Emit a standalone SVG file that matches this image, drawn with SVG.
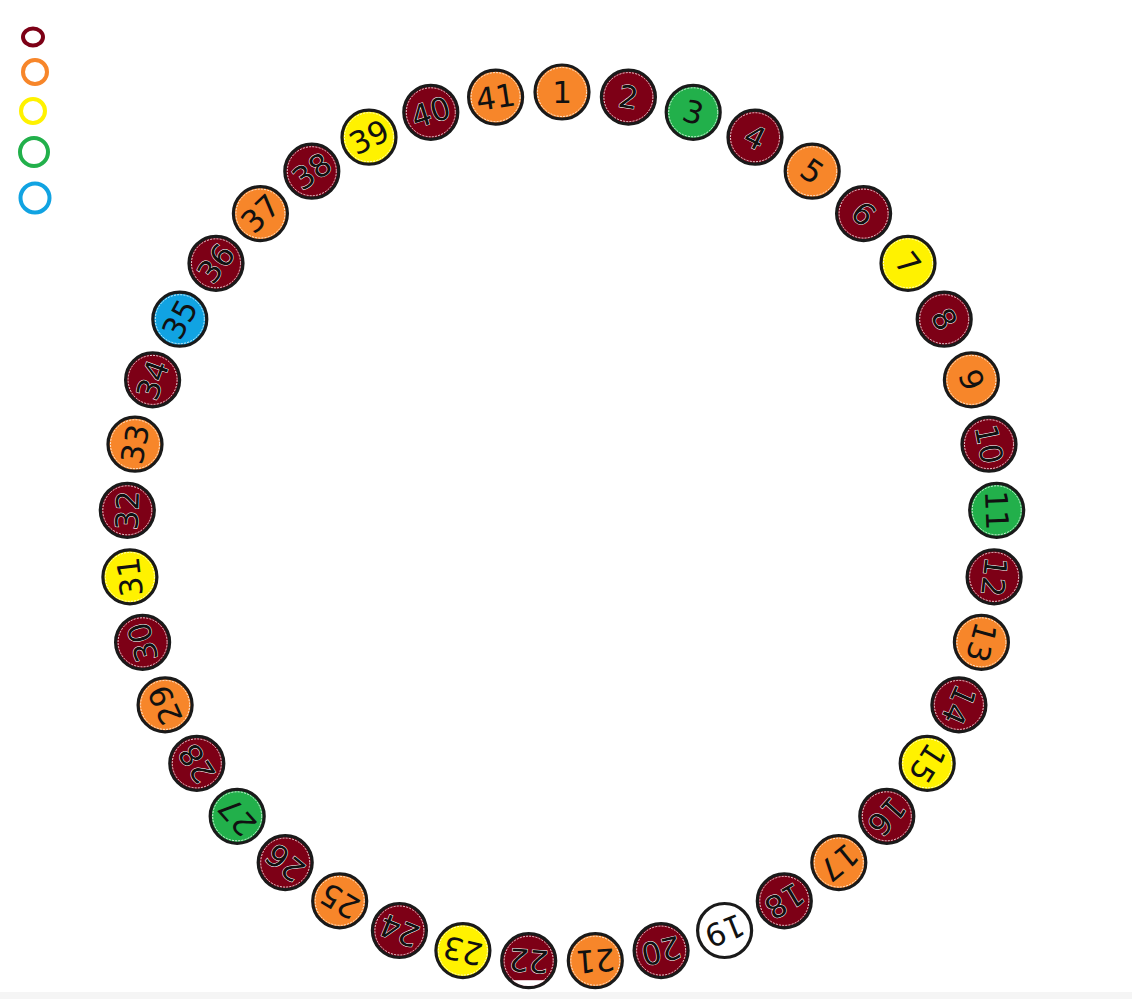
<svg xmlns="http://www.w3.org/2000/svg" width="1132" height="999" viewBox="0 0 1132 999">
<style>
.c{stroke:#1a1a1a;stroke-width:3.2}
.red{fill:#7d0016}.org{fill:#f7862a}.yel{fill:#fff200}.grn{fill:#22b04b}.blu{fill:#11a3e2}.wht{fill:#ffffff}
.d{fill:none;stroke:#ffffff;stroke-width:0.8;stroke-dasharray:2 1.2}
.t{font-family:"DejaVu Sans","Liberation Sans",sans-serif;font-size:31px;fill:#111;text-anchor:middle}
.tw{stroke:#ffffff;stroke-width:1;paint-order:stroke}
.lg{fill:none;stroke-width:4}
</style>
<defs>
<clipPath id="clip22"><circle cx="0" cy="0" r="25.4"/></clipPath>
</defs>
<rect x="0" y="0" width="1132" height="999" fill="#ffffff"/>
<rect x="0" y="992" width="1132" height="7" fill="#f5f5f5"/>
<g id="legend">
<ellipse cx="33" cy="37" rx="10" ry="8.5" class="lg" stroke="#7d0016"/>
<circle cx="35" cy="72" r="12" class="lg" stroke="#f7862a"/>
<circle cx="33" cy="111" r="12" class="lg" stroke="#fff200"/>
<circle cx="34" cy="152" r="14" class="lg" stroke="#22b04b"/>
<circle cx="35" cy="198" r="14.5" class="lg" stroke="#11a3e2"/>
</g>
<g id="connectors"></g>
<g id="n1" transform="translate(562,92)"><circle r="27" class="c org"/><circle r="24.5" class="d"/><text class="t" y="11" transform="rotate(0)">1</text></g>
<g id="n2" transform="translate(628.4,97.1)"><circle r="27" class="c red"/><circle r="24.5" class="d"/><text class="t tw" y="11" transform="rotate(8.78)">2</text></g>
<g id="n3" transform="translate(693.2,112.3)"><circle r="27" class="c grn"/><circle r="24.5" class="d"/><text class="t" y="11" transform="rotate(17.56)">3</text></g>
<g id="n4" transform="translate(755,137.2)"><circle r="27" class="c red"/><circle r="24.5" class="d"/><text class="t tw" y="11" transform="rotate(26.34)">4</text></g>
<g id="n5" transform="translate(812.2,171.2)"><circle r="27" class="c org"/><circle r="24.5" class="d"/><text class="t" y="11" transform="rotate(35.12)">5</text></g>
<g id="n6" transform="translate(863.6,213.6)"><circle r="27" class="c red"/><circle r="24.5" class="d"/><text class="t tw" y="11" transform="rotate(43.9)">6</text></g>
<g id="n7" transform="translate(908,263.3)"><circle r="27" class="c yel"/><circle r="24.5" class="d"/><text class="t" y="11" transform="rotate(52.68)">7</text></g>
<g id="n8" transform="translate(944.2,319.2)"><circle r="27" class="c red"/><circle r="24.5" class="d"/><text class="t tw" y="11" transform="rotate(61.46)">8</text></g>
<g id="n9" transform="translate(971.4,379.9)"><circle r="27" class="c org"/><circle r="24.5" class="d"/><text class="t" y="11" transform="rotate(70.24)">9</text></g>
<g id="n10" transform="translate(989,444.2)"><circle r="27" class="c red"/><circle r="24.5" class="d"/><text class="t tw" y="11" transform="rotate(79.02)">10</text></g>
<g id="n11" transform="translate(996.7,510.3)"><circle r="27" class="c grn"/><circle r="24.5" class="d"/><text class="t" y="11" transform="rotate(87.8)">11</text></g>
<g id="n12" transform="translate(994.1,576.9)"><circle r="27" class="c red"/><circle r="24.5" class="d"/><text class="t tw" y="11" transform="rotate(96.59)">12</text></g>
<g id="n13" transform="translate(981.4,642.3)"><circle r="27" class="c org"/><circle r="24.5" class="d"/><text class="t" y="11" transform="rotate(105.37)">13</text></g>
<g id="n14" transform="translate(958.9,704.9)"><circle r="27" class="c red"/><circle r="24.5" class="d"/><text class="t tw" y="11" transform="rotate(114.15)">14</text></g>
<g id="n15" transform="translate(927.2,763.4)"><circle r="27" class="c yel"/><circle r="24.5" class="d"/><text class="t" y="11" transform="rotate(122.93)">15</text></g>
<g id="n16" transform="translate(886.8,816.3)"><circle r="27" class="c red"/><circle r="24.5" class="d"/><text class="t tw" y="11" transform="rotate(131.71)">16</text></g>
<g id="n17" transform="translate(838.8,862.6)"><circle r="27" class="c org"/><circle r="24.5" class="d"/><text class="t" y="11" transform="rotate(140.49)">17</text></g>
<g id="n18" transform="translate(784.3,900.9)"><circle r="27" class="c red"/><circle r="24.5" class="d"/><text class="t tw" y="11" transform="rotate(149.27)">18</text></g>
<g id="n19" transform="translate(724.6,930.5)"><circle r="27" class="c wht"/><text class="t" y="11" transform="rotate(158.05)">19</text></g>
<g id="n20" transform="translate(661.1,950.6)"><circle r="27" class="c red"/><circle r="24.5" class="d"/><text class="t tw" y="11" transform="rotate(166.83)">20</text></g>
<g id="n21" transform="translate(595.3,960.7)"><circle r="27" class="c org"/><circle r="24.5" class="d"/><text class="t" y="11" transform="rotate(175.61)">21</text></g>
<g id="n22" transform="translate(528.7,960.7)"><circle r="27" class="c red"/><circle r="24.5" class="d"/><rect x="-30" y="19.5" width="60" height="10" fill="#ffffff" clip-path="url(#clip22)"/><text class="t tw" y="11" transform="rotate(184.39)">22</text></g>
<g id="n23" transform="translate(462.9,950.6)"><circle r="27" class="c yel"/><circle r="24.5" class="d"/><text class="t" y="11" transform="rotate(193.17)">23</text></g>
<g id="n24" transform="translate(399.4,930.5)"><circle r="27" class="c red"/><circle r="24.5" class="d"/><text class="t tw" y="11" transform="rotate(201.95)">24</text></g>
<g id="n25" transform="translate(339.7,900.9)"><circle r="27" class="c org"/><circle r="24.5" class="d"/><text class="t" y="11" transform="rotate(210.73)">25</text></g>
<g id="n26" transform="translate(285.2,862.6)"><circle r="27" class="c red"/><circle r="24.5" class="d"/><text class="t tw" y="11" transform="rotate(219.51)">26</text></g>
<g id="n27" transform="translate(237.2,816.3)"><circle r="27" class="c grn"/><circle r="24.5" class="d"/><text class="t" y="11" transform="rotate(228.29)">27</text></g>
<g id="n28" transform="translate(196.8,763.4)"><circle r="27" class="c red"/><circle r="24.5" class="d"/><text class="t tw" y="11" transform="rotate(237.07)">28</text></g>
<g id="n29" transform="translate(165.1,704.9)"><circle r="27" class="c org"/><circle r="24.5" class="d"/><text class="t" y="11" transform="rotate(245.85)">29</text></g>
<g id="n30" transform="translate(142.6,642.3)"><circle r="27" class="c red"/><circle r="24.5" class="d"/><text class="t tw" y="11" transform="rotate(254.63)">30</text></g>
<g id="n31" transform="translate(129.9,576.9)"><circle r="27" class="c yel"/><circle r="24.5" class="d"/><text class="t" y="11" transform="rotate(263.41)">31</text></g>
<g id="n32" transform="translate(127.3,510.3)"><circle r="27" class="c red"/><circle r="24.5" class="d"/><text class="t tw" y="11" transform="rotate(272.2)">32</text></g>
<g id="n33" transform="translate(135,444.2)"><circle r="27" class="c org"/><circle r="24.5" class="d"/><text class="t" y="11" transform="rotate(280.98)">33</text></g>
<g id="n34" transform="translate(152.6,379.9)"><circle r="27" class="c red"/><circle r="24.5" class="d"/><text class="t tw" y="11" transform="rotate(289.76)">34</text></g>
<g id="n35" transform="translate(179.8,319.2)"><circle r="27" class="c blu"/><circle r="24.5" class="d"/><text class="t" y="11" transform="rotate(298.54)">35</text></g>
<g id="n36" transform="translate(216,263.3)"><circle r="27" class="c red"/><circle r="24.5" class="d"/><text class="t tw" y="11" transform="rotate(307.32)">36</text></g>
<g id="n37" transform="translate(260.4,213.6)"><circle r="27" class="c org"/><circle r="24.5" class="d"/><text class="t" y="11" transform="rotate(316.1)">37</text></g>
<g id="n38" transform="translate(311.8,171.2)"><circle r="27" class="c red"/><circle r="24.5" class="d"/><text class="t tw" y="11" transform="rotate(324.88)">38</text></g>
<g id="n39" transform="translate(369,137.2)"><circle r="27" class="c yel"/><circle r="24.5" class="d"/><text class="t" y="11" transform="rotate(333.66)">39</text></g>
<g id="n40" transform="translate(430.8,112.3)"><circle r="27" class="c red"/><circle r="24.5" class="d"/><text class="t tw" y="11" transform="rotate(342.44)">40</text></g>
<g id="n41" transform="translate(495.6,97.1)"><circle r="27" class="c org"/><circle r="24.5" class="d"/><text class="t" y="11" transform="rotate(351.22)">41</text></g>
</svg>
